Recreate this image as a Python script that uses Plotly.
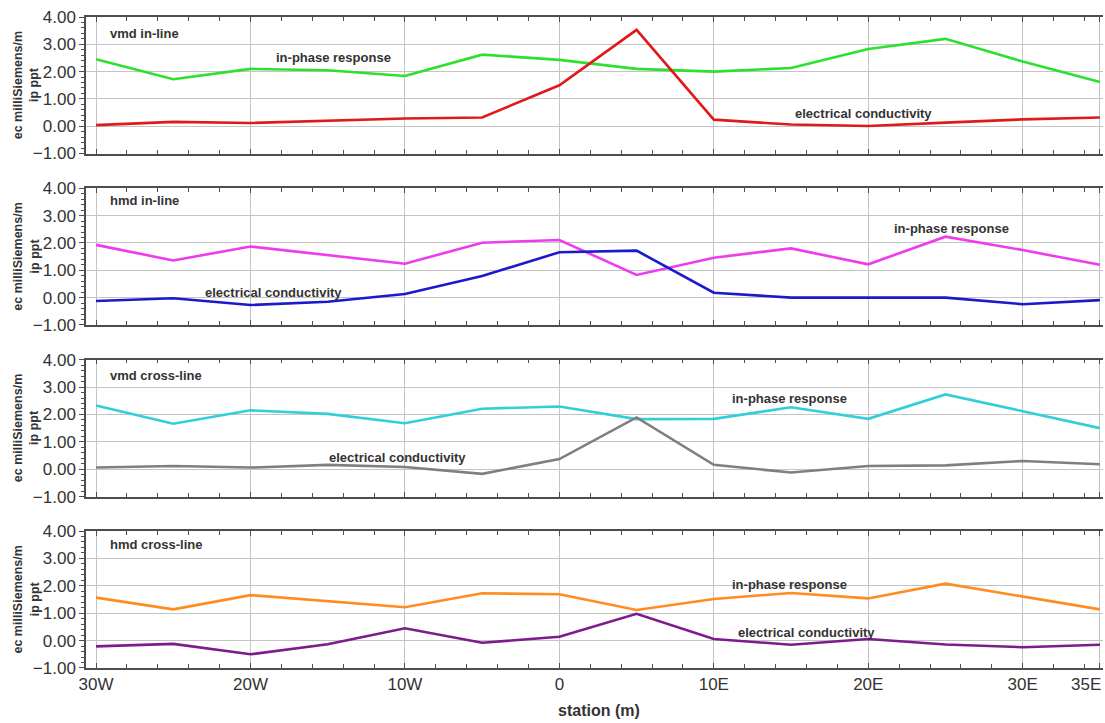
import plotly.graph_objects as go

# Survey stations along the line (m); negative = west, positive = east
stations = [-30, -25, -20, -15, -10, -5, 0, 5, 10, 15, 20, 25, 30, 35]
tick_vals = [-30, -20, -10, 0, 10, 20, 30, 35]
tick_text = ["30W", "20W", "10W", "0", "10E", "20E", "30E", ""]
end_label = "35E"

# vmd in-line
vmd_inline_ip = [2.45, 1.72, 2.10, 2.05, 1.84, 2.62, 2.43, 2.10, 2.00, 2.13, 2.83, 3.20, 2.37, 1.62]
vmd_inline_ec = [0.04, 0.16, 0.12, 0.19, 0.28, 0.32, 1.50, 3.53, 0.24, 0.06, 0.01, 0.13, 0.25, 0.32]
# hmd in-line
hmd_inline_ip = [1.93, 1.36, 1.87, 1.56, 1.24, 2.01, 2.11, 0.83, 1.46, 1.80, 1.22, 2.23, 1.74, 1.20]
hmd_inline_ec = [-0.12, -0.02, -0.27, -0.15, 0.13, 0.79, 1.66, 1.72, 0.18, 0.00, 0.00, 0.00, -0.24, -0.09]
# vmd cross-line
vmd_cross_ip = [2.33, 1.66, 2.15, 2.02, 1.68, 2.21, 2.29, 1.83, 1.84, 2.26, 1.84, 2.73, 2.12, 1.50]
vmd_cross_ec = [0.06, 0.12, 0.06, 0.16, 0.08, -0.17, 0.37, 1.89, 0.16, -0.12, 0.12, 0.14, 0.30, 0.18]
# hmd cross-line
hmd_cross_ip = [1.57, 1.14, 1.66, 1.44, 1.22, 1.73, 1.69, 1.12, 1.52, 1.74, 1.54, 2.08, 1.62, 1.14]
hmd_cross_ec = [-0.21, -0.12, -0.50, -0.13, 0.45, -0.08, 0.14, 0.98, 0.06, -0.15, 0.06, -0.14, -0.24, -0.15]

panel_titles = ["vmd in-line", "hmd in-line", "vmd cross-line", "hmd cross-line"]
ip_series = [vmd_inline_ip, hmd_inline_ip, vmd_cross_ip, hmd_cross_ip]
ec_series = [vmd_inline_ec, hmd_inline_ec, vmd_cross_ec, hmd_cross_ec]
ip_colors = ["#2ee02e", "#ee3bee", "#33cfd6", "#ff8c1f"]
ec_colors = ["#e01a1a", "#1a1acc", "#7f7f7f", "#7d1a8c"]

# label positions per panel: (x, y) for in-phase and conductivity labels
ip_label_pos = [(-14.6, 2.50), (25.4, 2.54), (14.9, 2.60), (14.9, 2.05)]
ec_label_pos = [(19.7, 0.46), (-18.5, 0.18), (-10.5, 0.44), (16.0, 0.29)]
title_pos_y = [3.38, 3.56, 3.41, 3.51]

domains = [(0.7903, 1.0), (0.5269, 0.7369), (0.2633, 0.4736), (0.0, 0.2104)]

FONT = "Liberation Sans, Arial, sans-serif"
TXT = "#333333"
AXLINE = "#4d4d4d"
GRID = "#c4c4c4"

fig = go.Figure()
annotations = []

for i in range(4):
    n = "" if i == 0 else str(i + 1)
    xref, yref = "x" + n, "y" + n
    fig.add_trace(go.Scatter(x=stations, y=ip_series[i], mode="lines",
                             line=dict(color=ip_colors[i], width=2.6),
                             xaxis=xref, yaxis=yref, showlegend=False))
    fig.add_trace(go.Scatter(x=stations, y=ec_series[i], mode="lines",
                             line=dict(color=ec_colors[i], width=2.6),
                             xaxis=xref, yaxis=yref, showlegend=False))

    fig.layout["xaxis" + n] = dict(
        domain=[0, 1], anchor=yref, range=[-30.65, 35.2],
        tickmode="array", tickvals=tick_vals, ticktext=tick_text,
        showticklabels=(i == 3), tickfont=dict(size=17, color=TXT, family=FONT),
        ticks="inside", ticklen=5, tickcolor=AXLINE,
        showgrid=True, gridcolor=GRID, gridwidth=1,
        showline=True, linecolor=AXLINE, linewidth=1.5, mirror="allticks",
        zeroline=False,
        minor=dict(tickmode="linear", tick0=-30, dtick=2, ticks="inside",
                   ticklen=4, tickcolor=AXLINE, showgrid=False),
    )
    if i != 0:
        fig.layout["xaxis" + n]["matches"] = "x"
    fig.layout["yaxis" + n] = dict(
        domain=list(domains[i]), anchor=xref, range=[-1, 4],
        tickmode="linear", tick0=-1, dtick=1, tickformat=".2f",
        tickfont=dict(size=17, color=TXT, family=FONT),
        ticks="outside", ticklen=5, tickcolor=AXLINE,
        showgrid=True, gridcolor=GRID, gridwidth=1,
        showline=True, linecolor=AXLINE, linewidth=1.5, mirror=False,
        zeroline=False,
        minor=dict(tickmode="linear", tick0=-1, dtick=0.2, ticks="outside",
                   ticklen=3, tickcolor=AXLINE, showgrid=False),
    )

    # panel title, series labels
    annotations.append(dict(x=-29.25, y=title_pos_y[i], xref=xref, yref=yref,
                            text="<b>" + panel_titles[i] + "</b>", showarrow=False,
                            xanchor="left", yanchor="middle",
                            font=dict(size=13, color=TXT, family=FONT)))
    annotations.append(dict(x=ip_label_pos[i][0], y=ip_label_pos[i][1], xref=xref, yref=yref,
                            text="<b>in-phase response</b>", showarrow=False,
                            xanchor="center", yanchor="middle",
                            font=dict(size=13, color=TXT, family=FONT)))
    annotations.append(dict(x=ec_label_pos[i][0], y=ec_label_pos[i][1], xref=xref, yref=yref,
                            text="<b>electrical conductivity</b>", showarrow=False,
                            xanchor="center", yanchor="middle",
                            font=dict(size=13, color=TXT, family=FONT)))
    # y-axis title for each panel
    annotations.append(dict(x=-0.059, y=(domains[i][0] + domains[i][1]) / 2,
                            xref="paper", yref="paper",
                            text="<b>ec milliSiemens/m<br>ip ppt</b>", showarrow=False,
                            textangle=-90, xanchor="center", yanchor="middle",
                            font=dict(size=12.5, color=TXT, family=FONT)))

# last station label sits flush with the right edge of the plot
annotations.append(dict(x=1.0, y=-0.0261, xref="paper", yref="paper",
                        text=end_label, showarrow=False,
                        xanchor="right", yanchor="middle",
                        font=dict(size=17, color=TXT, family=FONT)))

annotations.append(dict(x=0.504, y=-0.065, xref="paper", yref="paper",
                        text="<b>station (m)</b>", showarrow=False,
                        xanchor="center", yanchor="middle",
                        font=dict(size=16, color=TXT, family=FONT)))

fig.update_layout(
    width=1105, height=723,
    margin=dict(l=86, r=2, t=17, b=55),
    paper_bgcolor="white", plot_bgcolor="white",
    annotations=annotations,
    font=dict(family=FONT, color=TXT),
)

fig.write_html("out.html")
